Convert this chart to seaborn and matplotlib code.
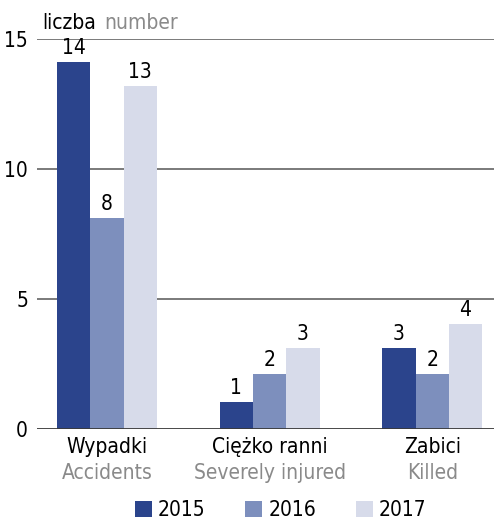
import numpy as np
import pandas as pd
import matplotlib
matplotlib.use("Agg")
import matplotlib.pyplot as plt
import seaborn as sns
from matplotlib.patches import Patch
from matplotlib import font_manager

# data
categories_pl = ["Wypadki", "Ciężko ranni", "Zabici"]
categories_en = ["Accidents", "Severely injured", "Killed"]
years = ["2015", "2016", "2017"]
values_2015 = [14.1, 1.05, 3.1]
values_2016 = [8.1, 2.1, 2.1]
values_2017 = [13.2, 3.1, 4.05]
labels_2015 = ["14", "1", "3"]
labels_2016 = ["8", "2", "2"]
labels_2017 = ["13", "3", "4"]

colors = ["#2b448c", "#7d8fbd", "#d7dbea"]
grey = "#8a8a8a"

rows = []
for yr, vals in zip(years, [values_2015, values_2016, values_2017]):
    for cat, v in zip(categories_pl, vals):
        rows.append({"cat": cat, "year": yr, "value": v})
df = pd.DataFrame(rows)

# look for a narrow font, the original uses a condensed face
narrow = None
for f in font_manager.fontManager.ttflist:
    fn = f.fname.lower()
    if ("narrow" in fn or "condensed" in fn) and "bold" not in fn and "italic" not in fn and "oblique" not in fn:
        narrow = f
        break

sns.set_style("white")
if narrow is not None:
    plt.rcParams["font.family"] = [narrow.name, "DejaVu Sans"]
    plt.rcParams["font.stretch"] = narrow.stretch
    fs = 15
else:
    plt.rcParams["font.family"] = ["DejaVu Sans"]
    fs = 12.5
plt.rcParams["text.color"] = "black"
plt.rcParams["ytick.color"] = "black"

fig = plt.figure(figsize=(4.94, 5.21), dpi=100)
ax = fig.add_axes([0.075, 0.1766, 0.925, 0.7486])

sns.barplot(data=df, x="cat", y="value", hue="year", palette=colors,
            width=0.615, gap=0, saturation=1, legend=False, ax=ax,
            edgecolor="none", linewidth=0)

ax.set_ylim(0, 15)
ax.set_xlim(-0.43, 2.38)
ax.set_yticks([0, 5, 10, 15])
for y in [5, 10, 15]:
    ax.axhline(y, color="#707070", lw=1.3, zorder=0)
ax.axhline(0, color="#3a3a3a", lw=1.3, zorder=3)

for sp in ax.spines.values():
    sp.set_visible(False)
ax.tick_params(axis="y", length=0, labelsize=fs, pad=6.5)
ax.tick_params(axis="x", length=0)
ax.set_xticklabels([])
ax.set_xlabel("")
ax.set_ylabel("")

for cont, labs in zip(ax.containers, [labels_2015, labels_2016, labels_2017]):
    ax.bar_label(cont, labels=labs, padding=3, fontsize=fs)

trans = ax.get_xaxis_transform()
for i, (pl, en) in enumerate(zip(categories_pl, categories_en)):
    ax.text(i, -0.047, pl, transform=trans, ha="center", va="center", fontsize=fs)
    ax.text(i, -0.113, en, transform=trans, ha="center", va="center", fontsize=fs, color=grey)

t1 = fig.text(0.085, 0.956, "liczba", fontsize=fs, ha="left", va="center")
ax.annotate("number", xy=(1, 0.5), xycoords=t1, xytext=(6, 0), textcoords="offset points",
            fontsize=fs, ha="left", va="center", color=grey)

handles = [Patch(facecolor=c, edgecolor="none") for c in colors]
fig.legend(handles, years, loc="lower center", bbox_to_anchor=(0.568, -0.034), ncol=3,
           frameon=False, fontsize=fs, handlelength=0.82, handleheight=0.82,
           handletextpad=0.3, columnspacing=1.9)

fig.savefig("out.png", dpi=100)
